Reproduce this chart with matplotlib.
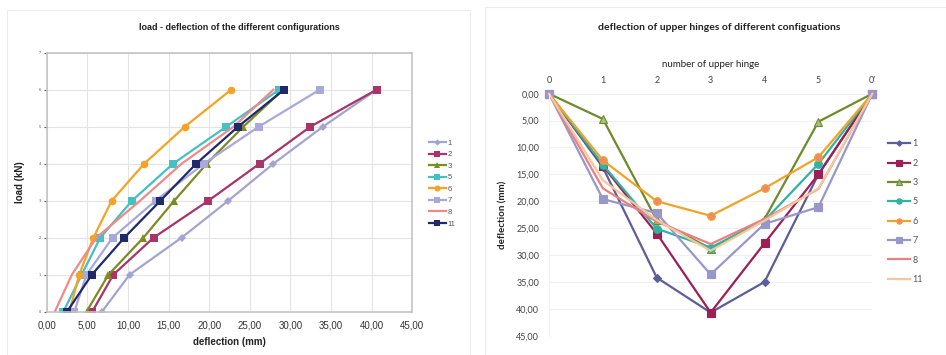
import matplotlib
matplotlib.use('Agg')
import matplotlib.pyplot as plt
from matplotlib.patches import Rectangle
from matplotlib.ticker import FuncFormatter

# ---------------- data: left chart ----------------
loads = [0, 1, 2, 3, 4, 5, 6]
left_names = ['1', '2', '3', '5', '6', '7', '8', '11']
defl_1 = [6.8, 10.2, 16.6, 22.35, 27.9, 34.0, 40.6]
defl_2 = [5.6, 8.2, 13.15, 19.9, 26.2, 32.45, 40.6]
defl_3 = [4.9, 7.6, 11.9, 15.7, 19.7, 24.2, 29.1]
defl_5 = [2.05, 4.3, 6.6, 10.5, 15.55, 22.1, 28.6]
defl_6 = [2.8, 4.0, 5.75, 8.0, 12.0, 17.0, 22.7]
defl_7 = [3.4, 4.9, 8.1, 13.4, 19.35, 26.1, 33.6]
defl_8 = [1.0, 3.1, 6.1, 11.5, 16.6, 23.0, 27.9]
defl_11 = [2.5, 5.55, 9.55, 14.0, 18.4, 23.55, 29.2]

# ---------------- data: right chart ----------------
hinges = ['0', '1', '2', '3', '4', '5', "0'"]
right_names = ['1', '2', '3', '5', '6', '7', '8', '11']
h_1 = [0, 13.7, 34.2, 40.7, 35.0, 15.0, 0]
h_2 = [0, 13.4, 26.0, 40.7, 27.8, 15.0, 0]
h_3 = [0, 4.7, 23.5, 28.8, 23.3, 5.2, 0]
h_5 = [0, 13.2, 25.1, 28.6, 23.6, 13.05, 0]
h_6 = [0, 12.4, 20.0, 22.7, 17.6, 11.8, 0]
h_7 = [0, 19.6, 22.2, 33.6, 24.2, 21.1, 0]
h_8 = [0, 17.6, 23.8, 27.95, 23.3, 17.7, 0]
h_11 = [0, 16.1, 23.5, 29.2, 23.6, 17.6, 0]

comma = FuncFormatter(lambda v, p: f"{v:.2f}".replace('.', ','))

fig = plt.figure(figsize=(9.46, 3.55), dpi=100)
W, H = 946, 355

def frac(x0, y0, x1, y1):
    return [x0 / W, 1 - y1 / H, (x1 - x0) / W, (y1 - y0) / H]

# outer chart borders
fig.patches.append(Rectangle((7 / W, 0), (470 - 7) / W, 1 - 10 / H, transform=fig.transFigure,
                             fill=False, edgecolor='#ececec', lw=0.8))
fig.patches.append(Rectangle((485 / W, 0), (946 - 485) / W, 1 - 7 / H, transform=fig.transFigure,
                             fill=False, edgecolor='#ececec', lw=0.8))

LF = ['Liberation Sans', 'DejaVu Sans']
RF = ['Lato', 'DejaVu Sans']

# ---------------- left chart ----------------
ax = fig.add_axes(frac(46.7, 52.7, 412.3, 311.7))
left_data = [defl_1, defl_2, defl_3, defl_5, defl_6, defl_7, defl_8, defl_11]
left_style = [
    dict(color='#a4a4d0', marker='D', ms=4),
    dict(color='#a8346a', marker='s', ms=5.5),
    dict(color='#7d8b22', marker='^', ms=5.5),
    dict(color='#45c0c4', marker='s', ms=5.5),
    dict(color='#f5a324', marker='o', ms=5.5),
    dict(color='#a9a9d9', marker='s', ms=5.5),
    dict(color='#f08a8a', marker=None, ms=0),
    dict(color='#1f2a6b', marker='s', ms=5.5),
]
for name, d, st in zip(left_names, left_data, left_style):
    ax.plot(d, loads, color=st['color'], marker=st['marker'], ms=st['ms'], lw=1.6, label=name,
            markeredgewidth=0)
ax.set_xlim(0, 45)
ax.set_ylim(0, 7)
ax.set_xticks(range(0, 46, 5))
ax.set_yticks(range(0, 8))
ax.xaxis.set_major_formatter(comma)
ax.grid(True, color='#e4e4e4', lw=0.8)
ax.set_axisbelow(True)
for s in ax.spines.values():
    s.set_color('#c4c4c4')
    s.set_linewidth(1.2)
ax.tick_params(axis='x', labelsize=7, colors='#333333', length=0, pad=6)
ax.tick_params(axis='y', labelsize=2.5, colors='#555555', length=2, pad=2)
for t in ax.get_xticklabels():
    t.set_fontfamily(LF)
ax.set_xlabel('deflection (mm)', fontsize=7, fontweight='bold', family=LF, labelpad=5, color='#222222')
ax.set_ylabel('load (kN)', fontsize=7, fontweight='bold', family=LF, labelpad=10, color='#222222')
fig.text(239 / W, 1 - 28 / H, 'load - deflection of the different configurations', ha='center', va='center',
         fontsize=6.5, fontweight='bold', family=LF, color='#222222')
leg = ax.legend(loc='upper left', bbox_to_anchor=(1.035, 0.68), frameon=False,
                handlelength=2.2, labelspacing=0.55, handletextpad=0.2, borderpad=0,
                markerscale=0.8, prop={'family': LF, 'size': 5.5})
for t in leg.get_texts():
    t.set_color('#555555')

# ---------------- right chart ----------------
ax2 = fig.add_axes(frac(549, 93.7, 872.3, 335.7))
xs = list(range(len(hinges)))
right_data = [h_1, h_2, h_3, h_5, h_6, h_7, h_8, h_11]
right_style = [
    dict(color='#5d5d98', marker='D', ms=4, mfc='#5d5d98'),
    dict(color='#9c1f55', marker='s', ms=5.5, mfc='#9c1f55'),
    dict(color='#6d8a2c', marker='^', ms=6, mfc='#a9bd84'),
    dict(color='#2fb3a3', marker='o', ms=5.5, mfc='#2fb3a3'),
    dict(color='#f2a226', marker='o', ms=5.5, mfc='#f08a66'),
    dict(color='#9797cc', marker='s', ms=5.5, mfc='#9797cc'),
    dict(color='#ea8080', marker=None, ms=0, mfc='none'),
    dict(color='#f7c69e', marker=None, ms=0, mfc='none'),
]
for name, d, st in zip(right_names, right_data, right_style):
    ax2.plot(xs, d, color=st['color'], marker=st['marker'], ms=st['ms'], mfc=st['mfc'],
             mec=st['color'], mew=0.8, lw=1.6, label=name, clip_on=False)
ax2.set_xlim(0, 6)
ax2.set_ylim(45, 0)
ax2.set_yticks(range(0, 46, 5))
ax2.yaxis.set_major_formatter(comma)
ax2.set_xticks(xs)
ax2.set_xticklabels(hinges)
ax2.xaxis.tick_top()
ax2.xaxis.set_label_position('top')
ax2.grid(axis='y', color='#f0f0f0', lw=0.8)
ax2.set_axisbelow(True)
for k, s in ax2.spines.items():
    s.set_visible(False)
ax2.spines['left'].set_visible(True)
ax2.spines['left'].set_color('#f2f2f2')
ax2.tick_params(axis='both', labelsize=6.5, colors='#444444', length=0)
ax2.tick_params(axis='x', pad=6)
ax2.tick_params(axis='y', pad=7)
for t in ax2.get_xticklabels() + ax2.get_yticklabels():
    t.set_fontfamily(RF)
ax2.set_xlabel('number of upper hinge', fontsize=7, family=RF, color='#222222', labelpad=7)
ax2.set_ylabel('deflection (mm)', fontsize=7, fontweight='bold', family=RF, color='#222222', labelpad=6)
fig.text(719 / W, 1 - 27 / H, 'deflection of upper hinges of different configuations', ha='center',
         va='center', fontsize=7.5, fontweight='bold', family=RF, color='#222222')
leg2 = ax2.legend(loc='upper left', bbox_to_anchor=(1.035, 0.83), frameon=False,
                  handlelength=2.4, labelspacing=1.15, handletextpad=0.3, borderpad=0,
                  markerscale=0.7, prop={'family': RF, 'size': 6.5})
for t in leg2.get_texts():
    t.set_color('#555555')

fig.savefig('out.png', dpi=100)
